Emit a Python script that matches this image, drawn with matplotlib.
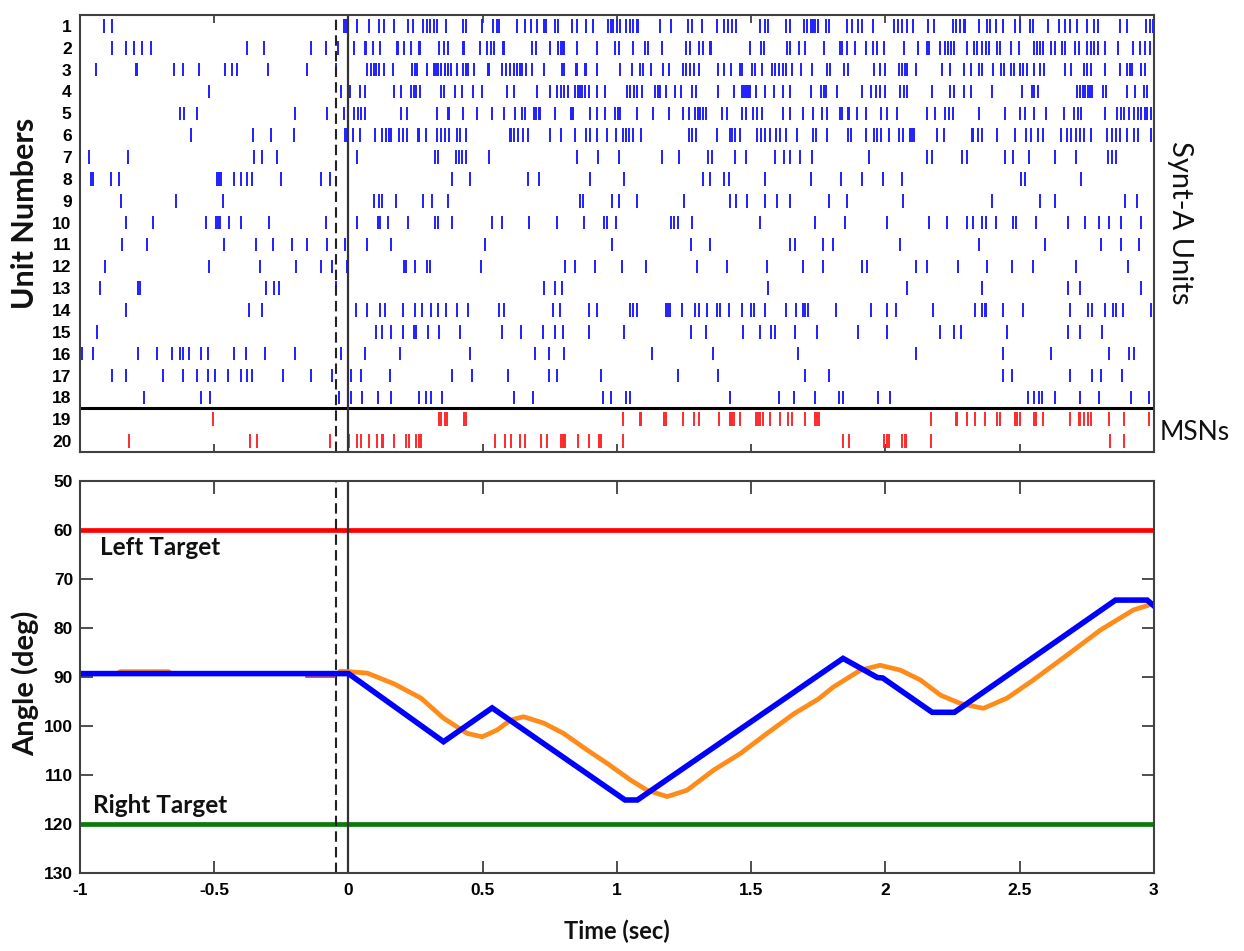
import matplotlib
matplotlib.use("Agg")
import matplotlib.pyplot as plt

# ---------------- data ----------------
u1 = [-0.911, -0.880, -0.017, -0.011, 0.032, 0.076, 0.112, 0.134, 0.168, 0.223, 0.242, 0.279, 0.294, 0.305, 0.317, 0.331, 0.365, 0.425, 0.436, 0.499, 0.540, 0.555, 0.559, 0.629, 0.659, 0.678, 0.704, 0.730, 0.737, 0.771, 0.782, 0.831, 0.853, 0.883, 0.909, 0.965, 0.976, 0.987, 1.002, 1.013, 1.032, 1.050, 1.061, 1.076, 1.080, 1.162, 1.203, 1.266, 1.281, 1.318, 1.374, 1.397, 1.412, 1.430, 1.445, 1.534, 1.553, 1.561, 1.628, 1.646, 1.695, 1.709, 1.721, 1.732, 1.739, 1.747, 1.777, 1.791, 1.858, 1.877, 1.896, 1.914, 1.955, 2.030, 2.045, 2.063, 2.082, 2.101, 2.160, 2.179, 2.250, 2.261, 2.279, 2.291, 2.298, 2.350, 2.380, 2.391, 2.410, 2.439, 2.484, 2.503, 2.540, 2.551, 2.607, 2.648, 2.667, 2.689, 2.715, 2.752, 2.775, 2.790, 2.872, 2.898, 2.969, 2.987, 2.998]
u2 = [-0.880, -0.828, -0.797, -0.768, -0.734, -0.377, -0.313, -0.139, -0.083, -0.038, 0.022, 0.061, 0.065, 0.092, 0.119, 0.181, 0.185, 0.206, 0.233, 0.263, 0.267, 0.339, 0.355, 0.370, 0.426, 0.430, 0.489, 0.516, 0.531, 0.541, 0.575, 0.579, 0.684, 0.700, 0.750, 0.781, 0.790, 0.800, 0.804, 0.852, 0.926, 0.994, 1.007, 1.060, 1.104, 1.115, 1.168, 1.259, 1.271, 1.305, 1.321, 1.346, 1.352, 1.497, 1.537, 1.547, 1.634, 1.646, 1.677, 1.702, 1.770, 1.830, 1.839, 1.857, 1.888, 1.926, 1.954, 1.969, 1.994, 2.068, 2.122, 2.155, 2.164, 2.202, 2.223, 2.233, 2.245, 2.257, 2.304, 2.329, 2.341, 2.360, 2.376, 2.385, 2.416, 2.428, 2.466, 2.497, 2.552, 2.565, 2.575, 2.587, 2.615, 2.633, 2.658, 2.670, 2.705, 2.720, 2.751, 2.764, 2.778, 2.791, 2.816, 2.867, 2.921, 2.947, 2.968, 2.984]
u3 = [-0.940, -0.793, -0.788, -0.651, -0.616, -0.555, -0.461, -0.433, -0.417, -0.300, -0.154, -0.046, 0.070, 0.084, 0.094, 0.103, 0.113, 0.134, 0.166, 0.237, 0.246, 0.256, 0.291, 0.318, 0.327, 0.334, 0.343, 0.358, 0.361, 0.370, 0.382, 0.405, 0.427, 0.436, 0.444, 0.469, 0.520, 0.524, 0.572, 0.587, 0.603, 0.616, 0.628, 0.638, 0.647, 0.663, 0.684, 0.730, 0.796, 0.802, 0.849, 0.853, 0.880, 0.884, 0.926, 1.013, 1.056, 1.085, 1.096, 1.127, 1.172, 1.193, 1.246, 1.259, 1.271, 1.286, 1.305, 1.376, 1.398, 1.425, 1.460, 1.464, 1.503, 1.513, 1.541, 1.578, 1.587, 1.603, 1.619, 1.631, 1.652, 1.686, 1.727, 1.783, 1.795, 1.845, 1.860, 1.957, 1.979, 2.000, 2.050, 2.062, 2.074, 2.081, 2.112, 2.211, 2.242, 2.294, 2.317, 2.348, 2.360, 2.401, 2.431, 2.441, 2.469, 2.478, 2.500, 2.513, 2.528, 2.552, 2.577, 2.590, 2.668, 2.691, 2.741, 2.751, 2.764, 2.819, 2.875, 2.900, 2.910, 2.919, 2.950, 2.968]
u4 = [-0.520, -0.026, 0.007, 0.042, 0.060, 0.171, 0.197, 0.233, 0.243, 0.253, 0.266, 0.345, 0.355, 0.395, 0.423, 0.464, 0.498, 0.591, 0.618, 0.703, 0.752, 0.775, 0.790, 0.804, 0.817, 0.845, 0.854, 0.862, 0.870, 0.880, 0.895, 0.926, 0.957, 1.038, 1.050, 1.063, 1.075, 1.094, 1.140, 1.152, 1.162, 1.181, 1.218, 1.237, 1.280, 1.296, 1.376, 1.435, 1.466, 1.472, 1.479, 1.485, 1.491, 1.497, 1.518, 1.553, 1.584, 1.619, 1.646, 1.721, 1.760, 1.770, 1.777, 1.820, 1.913, 1.947, 1.963, 1.981, 2.000, 2.053, 2.068, 2.081, 2.174, 2.242, 2.257, 2.294, 2.319, 2.397, 2.509, 2.546, 2.552, 2.567, 2.714, 2.726, 2.736, 2.745, 2.754, 2.761, 2.770, 2.811, 2.823, 2.900, 2.931, 2.962, 2.975]
u5 = [-0.628, -0.611, -0.564, -0.200, -0.079, -0.015, 0.022, 0.035, 0.047, 0.063, 0.197, 0.218, 0.330, 0.370, 0.375, 0.426, 0.477, 0.533, 0.579, 0.622, 0.647, 0.659, 0.690, 0.700, 0.709, 0.715, 0.771, 0.827, 0.832, 0.837, 0.901, 0.926, 0.957, 0.994, 1.004, 1.013, 1.075, 1.135, 1.193, 1.246, 1.268, 1.292, 1.301, 1.311, 1.320, 1.330, 1.392, 1.410, 1.466, 1.479, 1.507, 1.520, 1.541, 1.619, 1.646, 1.693, 1.731, 1.765, 1.783, 1.830, 1.839, 1.860, 1.864, 1.894, 1.926, 1.984, 2.006, 2.043, 2.155, 2.183, 2.223, 2.236, 2.252, 2.350, 2.447, 2.503, 2.521, 2.555, 2.598, 2.664, 2.704, 2.716, 2.729, 2.817, 2.863, 2.878, 2.890, 2.906, 2.927, 2.940, 2.952, 2.965, 2.975, 2.989, 2.999]
u6 = [-0.585, -0.356, -0.287, -0.204, -0.012, -0.006, -0.001, 0.017, 0.042, 0.098, 0.125, 0.140, 0.150, 0.159, 0.187, 0.202, 0.218, 0.258, 0.262, 0.288, 0.330, 0.343, 0.358, 0.374, 0.405, 0.417, 0.439, 0.600, 0.605, 0.616, 0.631, 0.651, 0.668, 0.750, 0.790, 0.845, 0.886, 0.901, 0.926, 0.963, 0.998, 1.023, 1.032, 1.044, 1.060, 1.090, 1.268, 1.280, 1.296, 1.371, 1.420, 1.429, 1.438, 1.460, 1.522, 1.537, 1.553, 1.569, 1.594, 1.606, 1.631, 1.669, 1.731, 1.743, 1.783, 1.860, 1.872, 1.929, 1.957, 1.969, 1.984, 2.012, 2.050, 2.066, 2.091, 2.099, 2.108, 2.192, 2.217, 2.323, 2.327, 2.344, 2.360, 2.416, 2.484, 2.524, 2.543, 2.567, 2.586, 2.654, 2.677, 2.691, 2.708, 2.724, 2.741, 2.766, 2.826, 2.842, 2.857, 2.873, 2.900, 2.927, 2.940, 2.989]
u7 = [-0.965, -0.822, -0.353, -0.322, -0.266, 0.032, 0.322, 0.334, 0.399, 0.411, 0.423, 0.439, 0.523, 0.852, 0.929, 1.007, 1.168, 1.230, 1.338, 1.354, 1.438, 1.479, 1.590, 1.621, 1.644, 1.683, 1.727, 1.938, 2.155, 2.174, 2.286, 2.302, 2.447, 2.475, 2.536, 2.633, 2.710, 2.829, 2.844, 2.860]
u8 = [-0.958, -0.951, -0.884, -0.853, -0.489, -0.483, -0.474, -0.427, -0.399, -0.377, -0.361, -0.251, -0.104, -0.070, 0.386, 0.454, 0.668, 0.709, 0.901, 1.028, 1.321, 1.348, 1.398, 1.416, 1.553, 1.721, 1.836, 1.913, 1.991, 2.062, 2.505, 2.518, 2.729]
u9 = [-0.849, -0.642, -0.468, 0.094, 0.113, 0.125, 0.178, 0.278, 0.312, 0.370, 0.864, 0.874, 0.982, 1.007, 1.075, 1.251, 1.420, 1.445, 1.485, 1.553, 1.597, 1.644, 1.789, 1.857, 2.066, 2.395, 2.574, 2.633, 2.894, 2.937]
u10 = [-0.828, -0.728, -0.530, -0.495, -0.487, -0.477, -0.446, -0.402, -0.297, -0.083, 0.030, 0.109, 0.119, 0.146, 0.222, 0.322, 0.334, 0.386, 0.535, 0.572, 0.672, 0.775, 0.876, 0.951, 0.963, 0.998, 1.202, 1.214, 1.227, 1.280, 1.532, 1.736, 1.849, 2.004, 2.161, 2.230, 2.304, 2.327, 2.358, 2.376, 2.410, 2.475, 2.488, 2.562, 2.679, 2.745, 2.794, 2.832, 2.878, 2.953]
u11 = [-0.845, -0.752, -0.464, -0.346, -0.281, -0.210, -0.154, -0.079, -0.014, 0.070, 0.160, 0.507, 0.982, 1.277, 1.345, 1.644, 1.662, 1.767, 1.805, 2.053, 2.350, 2.593, 2.801, 2.878, 2.943]
u12 = [-0.905, -0.518, -0.328, -0.195, -0.104, -0.063, -0.007, 0.206, 0.216, 0.247, 0.293, 0.303, 0.495, 0.806, 0.843, 0.917, 1.019, 1.110, 1.299, 1.410, 1.557, 1.693, 1.767, 1.913, 1.932, 2.115, 2.155, 2.269, 2.379, 2.472, 2.550, 2.711, 2.903]
u13 = [-0.924, -0.783, -0.775, -0.307, -0.276, -0.259, -0.046, 0.730, 0.768, 0.796, 1.563, 2.081, 2.360, 2.679, 2.726, 2.953]
u14 = [-0.828, -0.371, -0.322, 0.029, 0.070, 0.119, 0.135, 0.202, 0.247, 0.274, 0.308, 0.334, 0.365, 0.405, 0.446, 0.562, 0.579, 0.761, 0.786, 0.895, 0.924, 1.048, 1.060, 1.073, 1.181, 1.189, 1.197, 1.243, 1.292, 1.307, 1.336, 1.371, 1.385, 1.416, 1.466, 1.500, 1.512, 1.553, 1.628, 1.665, 1.693, 1.702, 1.711, 1.817, 1.948, 2.004, 2.040, 2.176, 2.335, 2.360, 2.369, 2.376, 2.437, 2.513, 2.689, 2.755, 2.770, 2.816, 2.847, 2.857, 2.885, 2.989]
u15 = [-0.936, 0.104, 0.125, 0.160, 0.202, 0.243, 0.253, 0.297, 0.339, 0.415, 0.572, 0.643, 0.724, 0.768, 0.800, 0.895, 1.025, 1.277, 1.333, 1.470, 1.531, 1.572, 1.590, 1.662, 1.746, 1.897, 2.004, 2.202, 2.255, 2.283, 2.451, 2.679, 2.726, 2.807]
u16 = [-0.992, -0.951, -0.783, -0.713, -0.657, -0.626, -0.616, -0.595, -0.549, -0.524, -0.427, -0.381, -0.312, -0.200, -0.026, 0.063, 0.191, 0.451, 0.694, 0.746, 0.804, 1.131, 1.357, 1.673, 2.112, 2.437, 2.615, 2.832, 2.906, 2.927]
u17 = [-0.880, -0.828, -0.692, -0.616, -0.564, -0.524, -0.499, -0.448, -0.399, -0.377, -0.359, -0.245, -0.139, -0.063, 0.010, 0.047, 0.153, 0.386, 0.461, 0.593, 0.746, 0.777, 0.939, 1.228, 1.376, 1.700, 1.791, 2.437, 2.472, 2.689, 2.770, 2.804, 2.881]
u18 = [-0.762, -0.551, -0.514, -0.034, 0.010, 0.051, 0.110, 0.160, 0.262, 0.287, 0.308, 0.349, 0.618, 0.688, 0.947, 0.976, 1.035, 1.050, 1.420, 1.603, 1.659, 1.736, 1.826, 1.841, 1.973, 2.016, 2.531, 2.552, 2.571, 2.584, 2.633, 2.726, 2.797, 2.915, 2.981]
msn19 = [-0.504, 0.336, 0.346, 0.358, 0.367, 0.430, 0.439, 1.023, 1.085, 1.090, 1.177, 1.184, 1.246, 1.286, 1.305, 1.379, 1.420, 1.425, 1.430, 1.435, 1.460, 1.516, 1.526, 1.534, 1.544, 1.569, 1.606, 1.636, 1.652, 1.700, 1.736, 1.746, 1.752, 2.171, 2.261, 2.267, 2.304, 2.335, 2.370, 2.416, 2.425, 2.482, 2.490, 2.500, 2.552, 2.559, 2.587, 2.689, 2.720, 2.726, 2.741, 2.754, 2.766, 2.832, 2.888, 2.981]
msn20 = [-0.818, -0.367, -0.340, -0.067, 0.001, 0.032, 0.047, 0.076, 0.107, 0.125, 0.129, 0.171, 0.216, 0.225, 0.253, 0.262, 0.271, 0.544, 0.582, 0.606, 0.637, 0.657, 0.718, 0.740, 0.792, 0.800, 0.804, 0.808, 0.855, 0.895, 0.932, 0.939, 1.023, 1.841, 1.866, 1.994, 2.004, 2.012, 2.062, 2.071, 2.078, 2.168, 2.836, 2.888]

unit_numbers = list(range(1, 21))

# cursor trajectory (blue) and hand trajectory (orange), degrees
blue_t = [-1.0, 0.0, 0.354, 0.535, 1.030, 1.076, 1.842, 1.970, 1.990, 2.174, 2.257, 2.857, 2.975, 3.0]
blue_deg = [89.3, 89.3, 103.2, 96.3, 115.1, 115.1, 86.2, 90.1, 90.2, 97.2, 97.2, 74.3, 74.3, 75.5]

orange_t = [-1.0, -0.86, -0.85, -0.67, -0.66, -0.04, -0.03, 0.0, 0.07, 0.17, 0.27, 0.354, 0.442, 0.498,
            0.554, 0.603, 0.652, 0.727, 0.801, 0.889, 0.963, 1.05, 1.112, 1.187, 1.261, 1.36, 1.46,
            1.559, 1.659, 1.75, 1.807, 1.907, 1.98, 2.056, 2.13, 2.205, 2.279, 2.365, 2.453, 2.551,
            2.677, 2.801, 2.924, 3.0]
orange_deg = [89.3, 89.3, 88.9, 88.9, 89.3, 89.3, 88.8, 88.9, 89.2, 91.4, 94.3, 98.4, 101.5, 102.2,
              100.8, 98.8, 98.1, 99.4, 101.5, 104.9, 107.6, 111.0, 113.1, 114.4, 113.1, 109.0, 105.6,
              101.5, 97.5, 94.5, 92.0, 88.6, 87.6, 88.6, 90.6, 93.7, 95.4, 96.4, 94.3, 90.6,
              85.5, 80.4, 76.3, 75.0]

red_seg_t = [-0.16, -0.05]
red_seg_deg = [89.9, 89.9]

left_target = 60
right_target = 120
go_cue = -0.045
time_ticks = [-1, -0.5, 0, 0.5, 1, 1.5, 2, 2.5, 3]
time_labels = ["-1", "-0.5", "0", "0.5", "1", "1.5", "2", "2.5", "3"]
angle_ticks = [50, 60, 70, 80, 90, 100, 110, 120, 130]

# ---------------- figure ----------------
fig = plt.figure(figsize=(12.44, 9.51), dpi=100)
ax1 = fig.add_axes([0.0643, 0.5247, 0.8633, 0.4595])
ax2 = fig.add_axes([0.0643, 0.0820, 0.8633, 0.4122])

spines_col = "#404040"
tick_font = dict(family="Liberation Sans", weight="bold", size=12.5)
label_font = "Lato"

# raster
spikes = [u1, u2, u3, u4, u5, u6, u7, u8, u9, u10, u11, u12, u13, u14, u15, u16, u17, u18, msn19, msn20]
colors = ["#1f1fff"] * 18 + ["#ff2a2a"] * 2
ax1.eventplot(spikes, lineoffsets=unit_numbers, linelengths=0.62, colors=colors, linewidths=1.4)
ax1.axhline(18.5, color="black", lw=2.2)
ax1.axvline(0, color="#333333", lw=1.6)
ax1.axvline(go_cue, color="#222222", lw=1.5, ls=(0, (5, 2.5)))
ax1.set_xlim(-1, 3)
ax1.set_ylim(20.5, 0.5)
ax1.set_yticks(unit_numbers)
ax1.set_yticklabels([str(u) for u in unit_numbers], fontdict=tick_font)
ax1.set_xticks(time_ticks)
ax1.set_xticklabels([])
ax1.tick_params(axis="x", direction="in", length=6, width=1.3, top=True, bottom=True, color=spines_col)
ax1.tick_params(axis="y", length=0, pad=6)
for s in ax1.spines.values():
    s.set_color(spines_col)
    s.set_linewidth(1.5)

# angle plot
ax2.axhline(left_target, color="#ff0000", lw=3.4)
ax2.axhline(right_target, color="#0a7a0a", lw=3.4)
ax2.axvline(0, color="#333333", lw=1.6)
ax2.axvline(go_cue, color="#222222", lw=1.5, ls=(0, (5, 2.5)))
ax2.plot(orange_t, orange_deg, color="#ff8c1a", lw=3.4, solid_joinstyle="round")
ax2.plot(red_seg_t, red_seg_deg, color="#cc3333", lw=1.2)
ax2.plot(blue_t, blue_deg, color="#0000ff", lw=4.0, solid_joinstyle="miter")
ax2.set_xlim(-1, 3)
ax2.set_ylim(130, 50)
ax2.set_xticks(time_ticks)
ax2.set_xticklabels(time_labels, fontdict=tick_font)
ax2.set_yticks(angle_ticks)
ax2.set_yticklabels([str(a) for a in angle_ticks], fontdict=tick_font)
ax2.tick_params(direction="in", length=9, width=1.3, top=True, right=True, color=spines_col)
ax2.tick_params(axis="x", pad=7)
ax2.tick_params(axis="y", pad=5)
for s in ax2.spines.values():
    s.set_color(spines_col)
    s.set_linewidth(1.5)

ax2.text(-0.927, 63.6, "Left Target", family=label_font, weight="bold", size=17.5, color="#111111", va="center")
ax2.text(-0.953, 116.2, "Right Target", family=label_font, weight="bold", size=17.5, color="#111111", va="center")

fig.text(0.020, 0.776, "Unit Numbers", family=label_font, weight="bold", size=22, rotation=90,
         ha="center", va="center", color="#111111")
fig.text(0.020, 0.282, "Angle (deg)", family=label_font, weight="bold", size=21, rotation=90,
         ha="center", va="center", color="#111111")
fig.text(0.496, 0.021, "Time (sec)", family=label_font, weight="bold", size=17,
         ha="center", va="center", color="#111111")
fig.text(0.9486, 0.766, "Synt-A Units", family=label_font, size=21, rotation=-90,
         ha="center", va="center", color="#111111")
fig.text(0.9606, 0.5457, "MSNs", family=label_font, size=19,
         ha="center", va="center", color="#111111")

fig.savefig("out.png", dpi=100, facecolor="white")
